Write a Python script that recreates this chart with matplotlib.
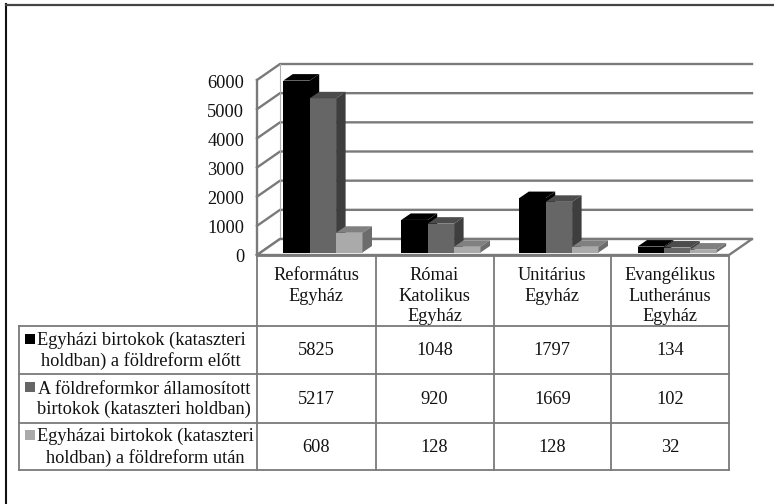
import matplotlib
matplotlib.use('Agg')
import matplotlib.pyplot as plt
from matplotlib.patches import Polygon, Rectangle

plt.rcParams['font.family'] = ['Liberation Serif', 'DejaVu Sans']

W, H = 774, 504

egyhazak = ['Református\nEgyház', 'Római\nKatolikus\nEgyház', 'Unitárius\nEgyház', 'Evangélikus\nLutheránus\nEgyház']
elott = [5825, 1048, 1797, 134]
allamositott = [5217, 920, 1669, 102]
utan = [608, 128, 128, 32]
sorok = [elott, allamositott, utan]
cimkek = ['Egyházi birtokok (kataszteri\nholdban) a földreform előtt',
          'A földreformkor államosított\nbirtokok (kataszteri holdban)',
          'Egyházai birtokok (kataszteri\nholdban) a földreform után']
yticks = [0, 1000, 2000, 3000, 4000, 5000, 6000]

szinek = ['#000000', '#666666', '#aaaaaa']
oldal = ['#000000', '#3e3e3e', '#6c6c6c']
teteje = ['#000000', '#4c4c4c', '#808080']
racs = '#7a7a7a'

fig = plt.figure(figsize=(W / 100, H / 100), dpi=100)

# hatter: keret es tablazat pixel koordinatakban
bg = fig.add_axes([0, 0, 1, 1])
bg.set_xlim(0, W)
bg.set_ylim(H, 0)
bg.axis('off')

bg.plot([6, 6], [4, H], color='#111111', lw=1.5)
bg.plot([6, W], [4.5, 4.5], color='#444444', lw=1.6)

oszlop_x = [257, 375.5, 493.5, 611, 729]
sor_y = [256, 325.5, 374, 422.5, 470]
bal = 19
tl = 1.3
for x in oszlop_x:
    bg.plot([x, x], [sor_y[0], sor_y[-1]], color=racs, lw=tl)
bg.plot([bal, bal], [sor_y[1], sor_y[-1]], color=racs, lw=tl)
bg.plot(oszlop_x[::4], [sor_y[0], sor_y[0]], color=racs, lw=tl)
for y in sor_y[1:]:
    bg.plot([bal, oszlop_x[-1]], [y, y], color=racs, lw=tl)

fs = 13.25
ls = 1.24
for i, nev in enumerate(egyhazak):
    xk = (oszlop_x[i] + oszlop_x[i + 1]) / 2
    bg.text(xk, 267.5, nev, ha='center', va='top', fontsize=fs, linespacing=ls, color='#111111')
    for s in range(3):
        bg.text(xk, (sor_y[s + 1] + sor_y[s + 2]) / 2 + 1, str(sorok[s][i]), ha='center', va='center',
                fontsize=fs, color='#111111')

cimke_x = [141, 144, 145]
for s in range(3):
    yk = (sor_y[s + 1] + sor_y[s + 2]) / 2
    bg.text(cimke_x[s], yk + 1, cimkek[s], ha='center', va='center', fontsize=fs, linespacing=ls, color='#111111')
    bg.add_patch(Rectangle((25, yk - 16), 10, 10, color=szinek[s], lw=0))

# a diagram: elso sik 257-729 px, 0 = 255 px, 6000 = 80 px
ax = fig.add_axes([257 / W, 1 - 255 / H, 472 / W, 175 / H])
ax.set_xlim(0, 4)
ax.set_ylim(0, 6000)
ax.axis('off')
ax.patch.set_alpha(0)

px_x = 4 / 472
px_y = 6000 / 175
dx = 23 * px_x
dy = 16 * px_y

# hatso fal racsvonalai es bal oldali fal
for v in yticks:
    ax.plot([0, dx, 4 + dx], [v, v + dy, v + dy], color=racs, lw=1.7, clip_on=False, zorder=1)
    ax.text(-13 * px_x, v - 3 * px_y, str(v), ha='right', va='center', fontsize=fs, color='#111111', clip_on=False)
ax.plot([0, 0], [0, 6000], color=racs, lw=1.7, clip_on=False, zorder=1)
ax.plot([dx, dx], [0 + dy, 6000 + dy], color='#b0b0b0', lw=0.8, clip_on=False, zorder=1)
# padlo
ax.add_patch(Polygon([(0, 0), (dx, dy), (4 + dx, dy), (4, 0)], closed=True, facecolor='white',
                     edgecolor='none', clip_on=False, zorder=1.5))
ax.plot([0, dx, 4 + dx, 4, 0], [0, dy, dy, 0, 0], color=racs, lw=1.7, clip_on=False, zorder=1.6)

# oszlopok
szel = 26.4 * px_x
kezd = [26.3, 144.3, 262.3, 380.5]
alap = 2.5 * px_y
plusz = 2 * px_y
mx = 9.5 * px_x
my = 6.5 * px_y
for s in range(3):
    for i in range(4):
        x0 = (kezd[i] + s * 26.4) * px_x
        v = sorok[s][i]
        z = 2 + s
        ax.bar(x0, v + plusz, szel, bottom=alap, align='edge', color=szinek[s], lw=0, zorder=z, clip_on=False)
        t = alap + v + plusz
        ax.add_patch(Polygon([(x0, t), (x0 + mx, t + my), (x0 + szel + mx, t + my), (x0 + szel, t)],
                             closed=True, facecolor=teteje[s], edgecolor='none', clip_on=False, zorder=z))
        ax.add_patch(Polygon([(x0 + szel, alap), (x0 + szel + mx, alap + my), (x0 + szel + mx, t + my), (x0 + szel, t)],
                             closed=True, facecolor=oldal[s], edgecolor='none', clip_on=False, zorder=z))

fig.savefig('out.png', dpi=100)
